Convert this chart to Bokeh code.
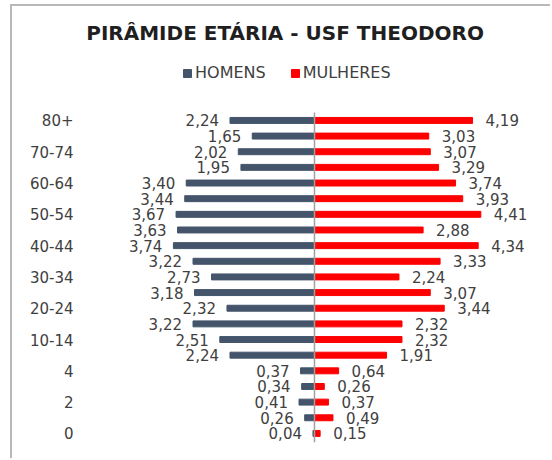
from bokeh.plotting import figure
from bokeh.models import ColumnDataSource, FixedTicker, Legend, LegendItem, Label
from bokeh.embed import file_html
from bokeh.resources import INLINE

# Age groups, bottom to top
categories = ["0", "1", "2", "3", "4", "5-9", "10-14", "15-19", "20-24", "25-29",
              "30-34", "35-39", "40-44", "45-49", "50-54", "55-59", "60-64",
              "65-69", "70-74", "75-79", "80+"]
# Values listed top (80+) to bottom (0)
homens_top_down = [2.24, 1.65, 2.02, 1.95, 3.40, 3.44, 3.67, 3.63, 3.74, 3.22, 2.73,
                   3.18, 2.32, 3.22, 2.51, 2.24, 0.37, 0.34, 0.41, 0.26, 0.04]
mulheres_top_down = [4.19, 3.03, 3.07, 3.29, 3.74, 3.93, 4.41, 2.88, 4.34, 3.33, 2.24,
                     3.07, 3.44, 2.32, 2.32, 1.91, 0.64, 0.26, 0.37, 0.49, 0.15]
title_text = "PIRÂMIDE ETÁRIA - USF THEODORO"
series_names = ["HOMENS", "MULHERES"]

homens = homens_top_down[::-1]
mulheres = mulheres_top_down[::-1]
n = len(categories)
ypos = list(range(n))

def fmt(v):
    return f"{v:.2f}".replace(".", ",")

src = ColumnDataSource(dict(
    y=ypos,
    h=[-v for v in homens],
    m=mulheres,
    hl=[fmt(v) for v in homens],
    ml=[fmt(v) for v in mulheres],
))

FONT = "DejaVu Sans"
TXT = "#404040"
HEADROOM = 6.78          # room above the bars for title and legend (in rows)
YTOP = n - 0.5 + HEADROOM
YBOT = -0.58

p = figure(width=540, height=454, output_backend="svg", toolbar_location=None,
           x_range=(-6.15, 6.31), y_range=(YBOT, YTOP),
           min_border_left=70, min_border_right=0, min_border_bottom=18, min_border_top=0)

rh = p.hbar(y="y", left=0, right="h", height=0.38, source=src, color="#44546A")
rm = p.hbar(y="y", left=0, right="m", height=0.38, source=src, color="#FF0000")

p.text(x="h", y="y", text="hl", source=src, x_offset=-11, text_align="right",
       text_baseline="middle", text_font_size="15px", text_color=TXT,
       text_font={"value": FONT})
p.text(x="m", y="y", text="ml", source=src, x_offset=13, text_align="left",
       text_baseline="middle", text_font_size="15px", text_color=TXT,
       text_font={"value": FONT})

# vertical axis line at zero
p.segment(x0=0, y0=YBOT, x1=0, y1=n - 0.5, line_color="#a0a0a0", line_width=1.5)

p.add_layout(Label(x=-0.78, y=YTOP - 1.725, text=title_text, text_align="center",
                   text_baseline="middle", text_font=FONT, text_font_size="20px",
                   text_font_style="bold", text_color="#1f1f1f"))

legend = Legend(items=[LegendItem(label=series_names[0], renderers=[rh]),
                       LegendItem(label=series_names[1], renderers=[rm])],
                orientation="horizontal", location=(100, 360),
                label_text_font=FONT, label_text_font_size="16px", label_text_color=TXT,
                glyph_width=10, glyph_height=10, label_standoff=3, spacing=24,
                label_height=17, border_line_color=None, background_fill_alpha=0,
                padding=0, margin=0)
p.add_layout(legend, "center")

p.xaxis.visible = False
p.yaxis.ticker = FixedTicker(ticks=ypos[::2])
p.yaxis.major_label_overrides = {i: categories[i] for i in ypos[::2]}
p.yaxis.axis_line_color = None
p.yaxis.major_tick_line_color = None
p.yaxis.minor_tick_line_color = None
p.yaxis.major_tick_out = 0
p.yaxis.major_tick_in = 0
p.yaxis.major_label_standoff = 9
p.yaxis.major_label_text_font = FONT
p.yaxis.major_label_text_font_size = "15px"
p.yaxis.major_label_text_color = TXT
p.grid.visible = False
p.outline_line_color = None
p.styles = {"margin-left": "10px", "margin-top": "4px",
            "border-left": "2px solid #b8b8b8", "border-top": "2px solid #b8b8b8"}

open("out.html", "w").write(file_html(p, INLINE))
